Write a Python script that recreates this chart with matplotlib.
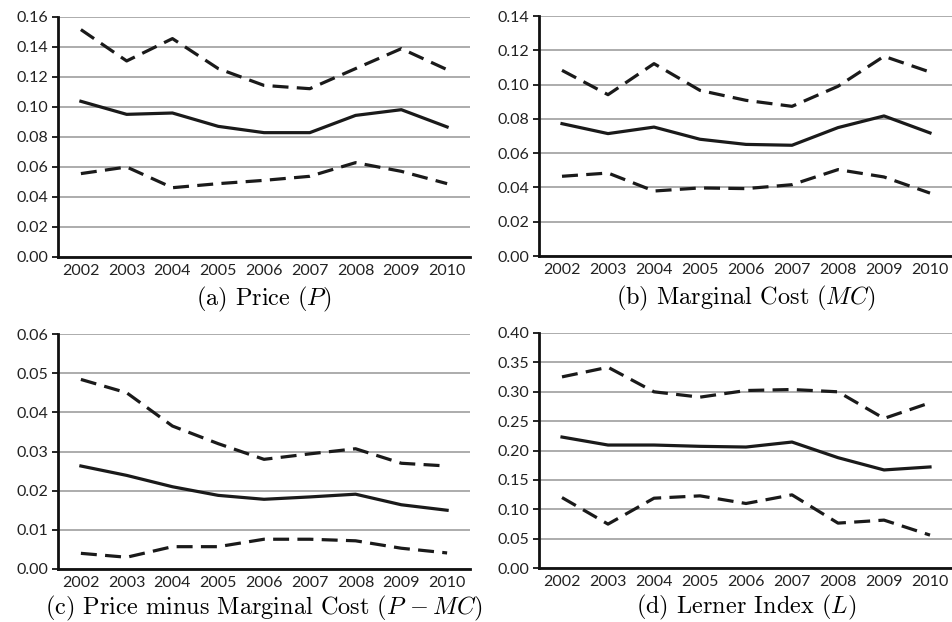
import matplotlib.pyplot as plt
import matplotlib.ticker as mticker

plt.rcParams['mathtext.fontset'] = 'cm'

years = [2002, 2003, 2004, 2005, 2006, 2007, 2008, 2009, 2010]

# (a) price
p_mean = [0.1038, 0.0951, 0.0960, 0.0871, 0.0829, 0.0829, 0.0944, 0.0982, 0.0867]
p_upper = [0.1516, 0.1307, 0.1456, 0.1256, 0.1144, 0.1122, 0.1256, 0.1389, 0.1249]
p_lower = [0.0556, 0.0600, 0.0462, 0.0489, 0.0511, 0.0538, 0.0629, 0.0571, 0.0489]

# (b) marginal cost
mc_mean = [0.0772, 0.0714, 0.0752, 0.0681, 0.0651, 0.0646, 0.0749, 0.0817, 0.0718]
mc_upper = [0.1083, 0.0941, 0.1122, 0.0966, 0.0908, 0.0873, 0.0990, 0.1165, 0.1073]
mc_lower = [0.0465, 0.0484, 0.0379, 0.0397, 0.0393, 0.0416, 0.0504, 0.0461, 0.0367]

# (c) price minus marginal cost
pmc_mean = [0.0263, 0.0239, 0.0210, 0.0188, 0.0178, 0.0184, 0.0191, 0.0164, 0.0150]
pmc_upper = [0.0484, 0.0450, 0.0365, 0.0320, 0.0280, 0.0294, 0.0307, 0.0270, 0.0263]
pmc_lower = [0.0040, 0.0030, 0.0057, 0.0057, 0.0076, 0.0076, 0.0072, 0.0053, 0.0041]

# (d) lerner index
l_mean = [0.2229, 0.2093, 0.2093, 0.2071, 0.2059, 0.2144, 0.1878, 0.1669, 0.1720]
l_upper = [0.3253, 0.3417, 0.2999, 0.2908, 0.3021, 0.3038, 0.2999, 0.2546, 0.2812]
l_lower = [0.1199, 0.0747, 0.1188, 0.1228, 0.1098, 0.1245, 0.0764, 0.0815, 0.0560]

captions = [r'(a) Price ($P$)', r'(b) Marginal Cost ($MC$)',
            r'(c) Price minus Marginal Cost ($P\,-MC$)', r'(d) Lerner Index ($L$)']
ymax = [0.16, 0.14, 0.06, 0.40]
ystep = [0.02, 0.02, 0.01, 0.05]

W, H = 953, 622
fig = plt.figure(figsize=(W / 100, H / 100), dpi=100)

# axes boxes in pixels: left, top, right, bottom
boxes = [(58, 17, 470, 257), (539, 16, 953, 256),
         (58, 334, 470, 569), (539, 333, 953, 568)]
cap_off = [-42, -42, -39, -39]

series = [(p_mean, p_upper, p_lower), (mc_mean, mc_upper, mc_lower),
          (pmc_mean, pmc_upper, pmc_lower), (l_mean, l_upper, l_lower)]

for i in range(4):
    l, t, r, b = boxes[i]
    ax = fig.add_axes([l / W, 1 - b / H, (r - l) / W, (b - t) / H])
    mean, up, lo = series[i]
    x = range(len(years))
    ax.plot(x, up, color='#1a1a1a', lw=2.3, dashes=(5, 2.6), zorder=3)
    ax.plot(x, mean, color='#1a1a1a', lw=2.3, zorder=3)
    ax.plot(x, lo, color='#1a1a1a', lw=2.3, dashes=(5, 2.6), zorder=3)

    ax.set_xlim(-0.5, len(years) - 0.5)
    ax.set_ylim(0, ymax[i])
    ax.set_xticks(list(x))
    ax.set_xticklabels([str(y) for y in years])
    ax.yaxis.set_major_locator(mticker.MultipleLocator(ystep[i]))
    ax.yaxis.set_major_formatter(mticker.FormatStrFormatter('%.2f'))
    ax.grid(axis='y', color='#a6a6a6', lw=1.3)
    ax.set_axisbelow(True)
    for s in ['top', 'right']:
        ax.spines[s].set_visible(False)
    for s in ['left', 'bottom']:
        ax.spines[s].set_linewidth(2.0)
        ax.spines[s].set_color('#111111')
    ax.tick_params(axis='x', length=0, pad=5, labelsize=11.5, labelcolor='#222222')
    ax.tick_params(axis='y', length=4, width=1.2, pad=3, labelsize=11.5, labelcolor='#222222')
    for lab in ax.get_xticklabels() + ax.get_yticklabels():
        lab.set_family('Lato')

    ax.annotate(captions[i], xy=(0.5, 0), xycoords='axes fraction',
                xytext=(0, cap_off[i]), textcoords='offset pixels',
                ha='center', va='center', fontsize=17.5, family='cmr10')

fig.savefig('out.png', dpi=100)
